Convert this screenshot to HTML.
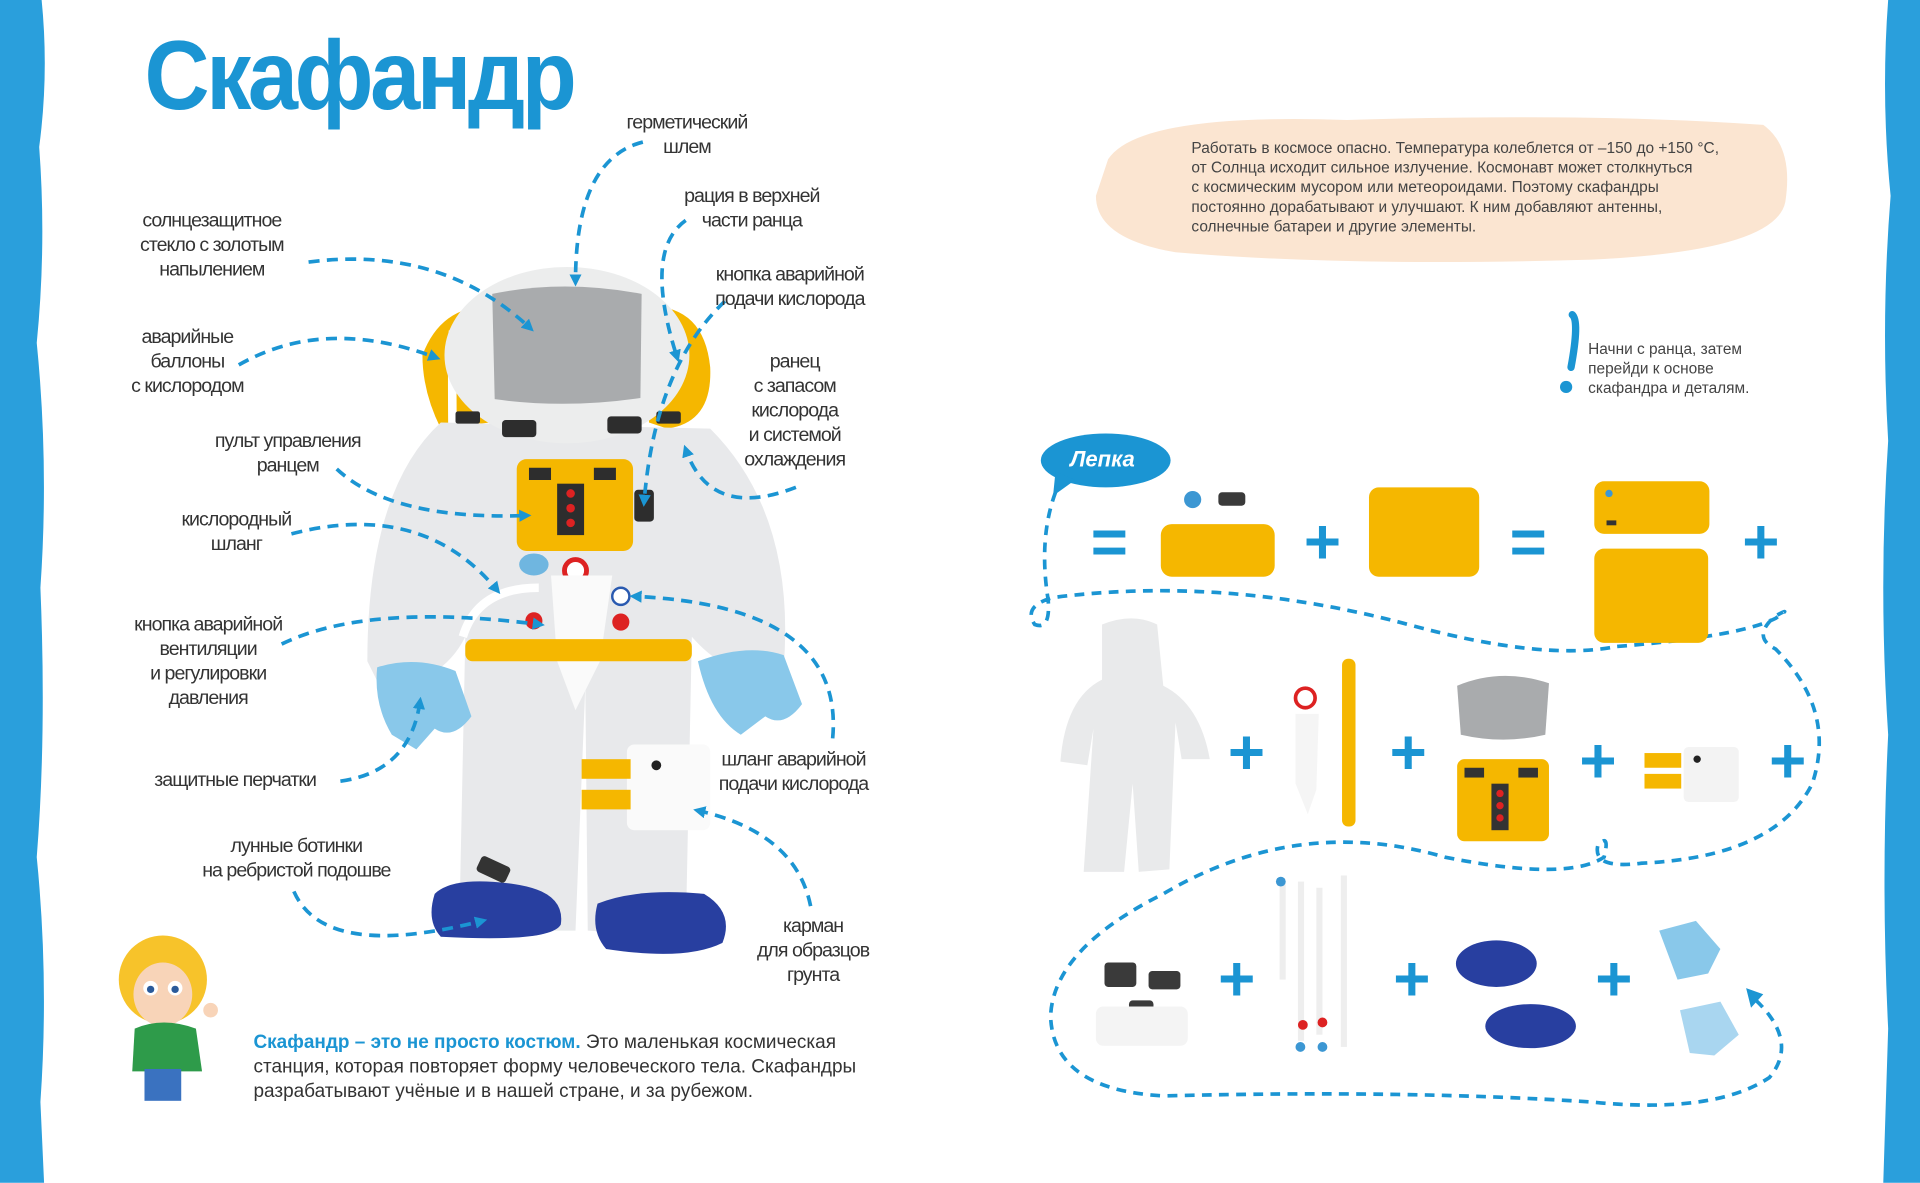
<!DOCTYPE html>
<html><head><meta charset="utf-8">
<style>
html,body{margin:0;padding:0;background:#fff;overflow:hidden;width:1920px;height:1183px}
#s{position:absolute;left:0;top:0;width:1568px;height:966px;transform:scale(1.22449);transform-origin:0 0;font-family:"Liberation Sans","DejaVu Sans",sans-serif}
.l{position:absolute;font-size:16px;line-height:20px;color:#333;text-align:center;letter-spacing:-0.8px;transform:translateX(-50%);white-space:nowrap}
.a{position:absolute}
.p{position:absolute;color:#1b95d3;font-weight:bold;font-size:52px;line-height:52px;transform:translate(-50%,-50%)}
</style></head><body>
<div id="s">
<svg class="a" style="left:0;top:0" width="1568" height="966" viewBox="0 0 1568 966">
<defs><marker id="m" markerWidth="10" markerHeight="10" refX="6" refY="5" orient="auto" markerUnits="userSpaceOnUse"><path d="M0,0 L10,5 L0,10 z" fill="#1b95d3"/></marker></defs>
<path d="M0,0 H34 Q40,60 32,120 Q38,200 30,280 Q40,380 33,480 Q38,600 30,700 Q40,800 33,900 L36,966 H0 Z" fill="#2a9fdc"/>
<path d="M1568,0 H1542 Q1536,80 1544,160 Q1536,260 1542,360 Q1534,480 1542,600 Q1536,720 1542,840 L1538,966 H1568 Z" fill="#2a9fdc"/>
<path d="M905,130 Q930,92 1100,98 Q1300,92 1440,102 Q1465,120 1458,165 Q1450,205 1300,212 Q1100,218 960,206 Q895,195 895,160 Z" fill="#fbe5d1"/>
<g>
<path d="M345,290 Q360,250 400,250 L400,345 L360,350 Q345,320 345,290Z" fill="#f5b700"/>
<path d="M530,250 Q575,250 580,300 Q582,345 545,350 L530,345Z" fill="#f5b700"/>
<path d="M370,270 Q368,300 372,520" stroke="#fff" stroke-width="7" fill="none"/>
<path d="M360,345 Q300,400 300,540 L310,560 Q360,560 380,520 L375,760 L470,760 L478,560 L480,760 L560,765 L565,520 Q600,560 640,545 Q650,420 580,350 Z" fill="#e8e9eb"/>
<ellipse cx="463" cy="290" rx="100" ry="72" fill="#eceded"/>
<path d="M402,240 Q460,228 524,240 L523,325 Q462,334 404,326 Z" fill="#a9abad"/>
<rect x="410" y="343" width="28" height="14" rx="3" fill="#2d2d2d"/><rect x="496" y="340" width="28" height="14" rx="3" fill="#2d2d2d"/>
<rect x="372" y="336" width="20" height="10" rx="2" fill="#2d2d2d"/><rect x="536" y="336" width="20" height="10" rx="2" fill="#2d2d2d"/>
<rect x="422" y="375" width="95" height="75" rx="8" fill="#f5b700"/>
<rect x="455" y="395" width="22" height="42" fill="#2d2d2d"/><rect x="432" y="382" width="18" height="10" fill="#2d2d2d"/><rect x="485" y="382" width="18" height="10" fill="#2d2d2d"/>
<circle cx="466" cy="403" r="3.5" fill="#d22"/><circle cx="466" cy="415" r="3.5" fill="#d22"/><circle cx="466" cy="427" r="3.5" fill="#d22"/>
<rect x="518" y="400" width="16" height="26" rx="3" fill="#2d2d2d"/>
<circle cx="470" cy="466" r="9" fill="#fff" stroke="#d22" stroke-width="4"/>
<path d="M450,470 L500,470 L490,540 L470,580 L455,540 Z" fill="#fafafa"/>
<rect x="380" y="522" width="185" height="18" rx="6" fill="#f5b700"/>
<ellipse cx="436" cy="461" rx="12" ry="9" fill="#6fb6e0"/>
<path d="M378,520 Q390,480 440,480" stroke="#fff" stroke-width="7" fill="none"/>
<circle cx="436" cy="507" r="7" fill="#d22"/><circle cx="507" cy="508" r="7" fill="#d22"/><circle cx="507" cy="487" r="7" fill="#fff" stroke="#2a5ab0" stroke-width="2"/>
<path d="M308,545 Q340,535 372,548 L385,585 Q370,605 355,595 L340,612 L320,600 Q305,575 308,545Z" fill="#89c8ea"/>
<path d="M570,540 Q610,525 640,535 L655,575 Q640,595 625,585 L605,600 Q580,585 570,540Z" fill="#89c8ea"/>
<rect x="512" y="608" width="68" height="70" rx="6" fill="#fafafa"/><circle cx="536" cy="625" r="4" fill="#222"/>
<rect x="475" y="620" width="40" height="16" fill="#f5b700"/><rect x="475" y="645" width="40" height="16" fill="#f5b700"/>
<path d="M355,730 Q370,715 420,722 Q462,728 458,755 Q450,770 360,765 Q348,752 355,730Z" fill="#283fa0"/>
<path d="M488,738 Q520,725 575,730 Q600,745 590,770 Q560,785 495,775 Q482,760 488,738Z" fill="#283fa0"/>
<rect x="390" y="703" width="26" height="14" rx="3" fill="#333" transform="rotate(25 403 710)"/>
</g>
<g>
<circle cx="133" cy="800" r="36" fill="#f7c32a"/>
<ellipse cx="133" cy="812" rx="24" ry="26" fill="#f8d4b8"/>
<circle cx="123" cy="807" r="6" fill="#fff"/><circle cx="143" cy="807" r="6" fill="#fff"/><circle cx="123" cy="808" r="3" fill="#2a5a9a"/><circle cx="143" cy="808" r="3" fill="#2a5a9a"/>
<path d="M110,840 Q133,830 160,840 L165,875 L108,875Z" fill="#2e9b4a"/>
<rect x="118" y="873" width="30" height="26" fill="#3a72c0"/>
<circle cx="172" cy="825" r="6" fill="#f8d4b8"/>
</g>
<g fill="none" stroke="#1b95d3" stroke-width="3" stroke-dasharray="9 6" marker-end="url(#m)">
<path d="M525,116 Q470,130 470,230"/>
<path d="M560,180 Q525,205 553,292"/>
<path d="M252,214 Q360,200 433,268"/>
<path d="M592,246 Q535,300 526,410"/>
<path d="M195,298 Q265,258 356,292"/>
<path d="M650,398 Q580,425 560,367"/>
<path d="M275,383 Q320,425 430,421"/>
<path d="M238,436 Q345,408 406,482"/>
<path d="M230,526 Q300,492 441,510"/>
<path d="M278,638 Q335,630 343,573"/>
<path d="M680,603 Q690,495 518,487"/>
<path d="M240,728 Q265,785 394,752"/>
<path d="M662,740 Q650,680 570,662"/>
</g>
<g fill="none" stroke="#1b95d3" stroke-width="3" stroke-dasharray="8 6">
<path d="M862,402 Q848,440 856,490 Q858,515 845,510 Q835,495 860,488 Q1000,470 1150,510 Q1260,540 1320,528 Q1420,520 1450,505 Q1465,495 1450,503 Q1430,520 1450,530 Q1500,580 1480,640 Q1450,700 1340,705 Q1300,710 1305,690 Q1315,680 1310,700 Q1280,720 1180,700 Q1060,665 950,730 Q860,775 858,830 Q860,890 950,895 Q1150,890 1300,900 Q1400,910 1445,880 Q1470,850 1432,815"/>
</g>
<path d="M1426,807 L1440,812 L1430,823 Z" fill="#1b95d3"/>
<ellipse cx="903" cy="376" rx="53" ry="22" fill="#1b95d3"/>
<path d="M862,385 L860,405 L878,392Z" fill="#1b95d3"/>
<path d="M1284,257 Q1290,262 1283,300" stroke="#1b95d3" stroke-width="6" stroke-linecap="round" fill="none"/>
<circle cx="1279" cy="316" r="5" fill="#1b95d3"/>
<circle cx="974" cy="408" r="7" fill="#3c97d3"/><rect x="995" y="402" width="22" height="11" rx="3" fill="#3a3a3a"/>
<rect x="948" y="428" width="93" height="43" rx="9" fill="#f5b700"/>
<rect x="1118" y="398" width="90" height="73" rx="8" fill="#f5b700"/>
<rect x="1302" y="393" width="94" height="43" rx="8" fill="#f5b700"/><circle cx="1314" cy="403" r="3" fill="#3c97d3"/><rect x="1312" y="425" width="8" height="4" fill="#333"/>
<rect x="1302" y="448" width="93" height="77" rx="8" fill="#f5b700"/>
<path d="M900,510 Q925,500 945,510 L950,560 Q980,575 988,620 L965,620 L960,590 L955,710 L930,712 L925,640 L918,712 L885,712 L893,595 L888,625 L866,622 Q870,570 900,555Z" fill="#e9eaeb"/>
<circle cx="1066" cy="570" r="8" fill="#fff" stroke="#d22" stroke-width="3"/>
<path d="M1058,583 L1077,583 L1075,645 L1068,665 L1058,640Z" fill="#f5f5f5"/>
<rect x="1096" y="538" width="11" height="137" rx="5" fill="#f5b700"/>
<path d="M1190,560 Q1226,545 1265,558 L1262,600 Q1228,608 1193,600Z" fill="#a9abad"/>
<rect x="1190" y="620" width="75" height="67" rx="6" fill="#f5b700"/><rect x="1218" y="640" width="14" height="38" fill="#333"/><rect x="1196" y="627" width="16" height="8" fill="#333"/><rect x="1240" y="627" width="16" height="8" fill="#333"/>
<circle cx="1225" cy="648" r="3" fill="#d22"/><circle cx="1225" cy="658" r="3" fill="#d22"/><circle cx="1225" cy="668" r="3" fill="#d22"/>
<rect x="1343" y="615" width="30" height="12" fill="#f5b700"/><rect x="1343" y="632" width="30" height="12" fill="#f5b700"/>
<rect x="1375" y="610" width="45" height="45" rx="4" fill="#f3f3f3"/><circle cx="1386" cy="620" r="3" fill="#222"/>
<rect x="902" y="786" width="26" height="20" rx="3" fill="#3a3a3a"/><rect x="938" y="793" width="26" height="15" rx="3" fill="#3a3a3a"/><rect x="922" y="817" width="20" height="15" rx="3" fill="#3a3a3a"/>
<rect x="895" y="822" width="75" height="32" rx="6" fill="#f4f4f4"/>
<rect x="1045" y="720" width="5" height="80" fill="#eee"/><rect x="1060" y="720" width="5" height="130" fill="#eee"/><rect x="1075" y="725" width="5" height="120" fill="#eee"/><rect x="1095" y="715" width="5" height="140" fill="#eee"/>
<circle cx="1046" cy="720" r="4" fill="#3c97d3"/>
<circle cx="1064" cy="837" r="4" fill="#d22"/><circle cx="1080" cy="835" r="4" fill="#d22"/><circle cx="1062" cy="855" r="4" fill="#3c97d3"/><circle cx="1080" cy="855" r="4" fill="#3c97d3"/>
<ellipse cx="1222" cy="787" rx="33" ry="19" fill="#283fa0"/><ellipse cx="1250" cy="838" rx="37" ry="18" fill="#283fa0"/>
<path d="M1355,760 L1385,752 L1405,775 L1395,795 L1370,800Z" fill="#89c8ea"/>
<path d="M1372,825 L1405,818 L1420,845 L1400,862 L1380,860Z" fill="#a9d6f0"/>
</svg>

<div class="a" style="left:118px;top:16px;font-size:80px;font-weight:bold;color:#1b95d3;letter-spacing:-3px;transform:scaleX(0.92);transform-origin:0 0">Скафандр</div>

<div class="l" style="left:561px;top:91px">герметический<br>шлем</div>
<div class="l" style="left:614px;top:151px">рация в верхней<br>части ранца</div>
<div class="l" style="left:173px;top:171px">солнцезащитное<br>стекло с золотым<br>напылением</div>
<div class="l" style="left:645px;top:215px">кнопка аварийной<br>подачи кислорода</div>
<div class="l" style="left:153px;top:266px">аварийные<br>баллоны<br>с кислородом</div>
<div class="l" style="left:649px;top:286px">ранец<br>с запасом<br>кислорода<br>и системой<br>охлаждения</div>
<div class="l" style="left:235px;top:351px">пульт управления<br>ранцем</div>
<div class="l" style="left:193px;top:415px">кислородный<br>шланг</div>
<div class="l" style="left:170px;top:501px">кнопка аварийной<br>вентиляции<br>и регулировки<br>давления</div>
<div class="l" style="left:192px;top:628px">защитные перчатки</div>
<div class="l" style="left:648px;top:611px">шланг аварийной<br>подачи кислорода</div>
<div class="l" style="left:242px;top:682px">лунные ботинки<br>на ребристой подошве</div>
<div class="l" style="left:664px;top:747px">карман<br>для образцов<br>грунта</div>

<div class="a" style="left:207px;top:842px;font-size:15.5px;line-height:20px;color:#333;white-space:nowrap"><b style="color:#1b95d3">Скафандр – это не просто костюм.</b> Это маленькая космическая<br>станция, которая повторяет форму человеческого тела. Скафандры<br>разрабатывают учёные и в нашей стране, и за рубежом.</div>

<div class="a" style="left:973px;top:113px;font-size:12.6px;line-height:16px;color:#444;white-space:nowrap">Работать в космосе опасно. Температура колеблется от –150 до +150 °С,<br>от Солнца исходит сильное излучение. Космонавт может столкнуться<br>с космическим мусором или метеороидами. Поэтому скафандры<br>постоянно дорабатывают и улучшают. К ним добавляют антенны,<br>солнечные батареи и другие элементы.</div>

<div class="a" style="left:1297px;top:277px;font-size:12.6px;line-height:16px;color:#444;white-space:nowrap">Начни с ранца, затем<br>перейди к основе<br>скафандра и деталям.</div>

<div class="a" style="left:874px;top:365px;font-size:18px;font-weight:bold;font-style:italic;color:#fff">Лепка</div>

<div class="p" style="left:906px;top:443px">=</div>
<div class="p" style="left:1080px;top:443px">+</div>
<div class="p" style="left:1248px;top:443px">=</div>
<div class="p" style="left:1438px;top:443px">+</div>
<div class="p" style="left:1018px;top:615px">+</div>
<div class="p" style="left:1150px;top:615px">+</div>
<div class="p" style="left:1305px;top:622px">+</div>
<div class="p" style="left:1460px;top:622px">+</div>
<div class="p" style="left:1010px;top:800px">+</div>
<div class="p" style="left:1153px;top:800px">+</div>
<div class="p" style="left:1318px;top:800px">+</div>
</div>
</body></html>
